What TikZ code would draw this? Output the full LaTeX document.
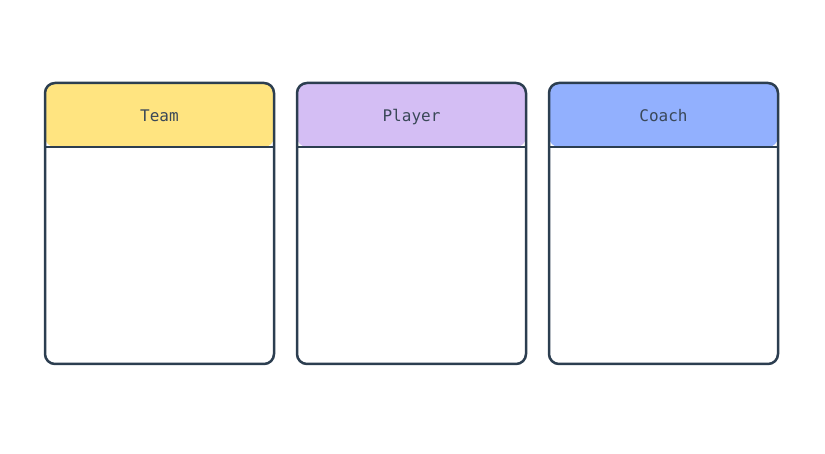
\documentclass[tikz,border=0pt]{standalone}
\usepackage{fontspec}
\newfontfamily\monofnt{DejaVu Sans Mono}
\definecolor{edgec}{HTML}{2C3E50}
\definecolor{textc}{HTML}{3A4858}
\definecolor{teamc}{HTML}{FFE480}
\definecolor{playerc}{HTML}{D4BEF4}
\definecolor{coachc}{HTML}{92B0FE}
\tikzset{
  entity/.style={draw=edgec, line width=2.5pt, fill=white, rounded corners=10pt,
    minimum width=229pt, minimum height=281pt, inner sep=0pt, outer sep=0pt,
    path picture={
      \fill[#1] (path picture bounding box.north west) rectangle ([yshift=-64pt]path picture bounding box.north east);
      \draw[edgec, line width=2.5pt] ([yshift=-64pt]path picture bounding box.north west) -- ([yshift=-64pt]path picture bounding box.north east);
    }},
  title/.style={font=\monofnt\fontsize{16}{18}\selectfont, text=textc, inner sep=0pt, anchor=base}
}
\begin{document}
\begin{tikzpicture}[x=1pt,y=-1pt]
\useasboundingbox (0,0) rectangle (825,454);
\node[entity=teamc] (team) at (159.5,223.5) {};
\node[entity=playerc] (player) at (411.5,223.5) {};
\node[entity=coachc] (coach) at (663.5,223.5) {};
\node[title] (teamlabel) at ([yshift=-38.5pt]team.north) {Team};
\node[title] (playerlabel) at ([yshift=-38.5pt]player.north) {Player};
\node[title] (coachlabel) at ([yshift=-38.5pt]coach.north) {Coach};
\end{tikzpicture}
\end{document}
